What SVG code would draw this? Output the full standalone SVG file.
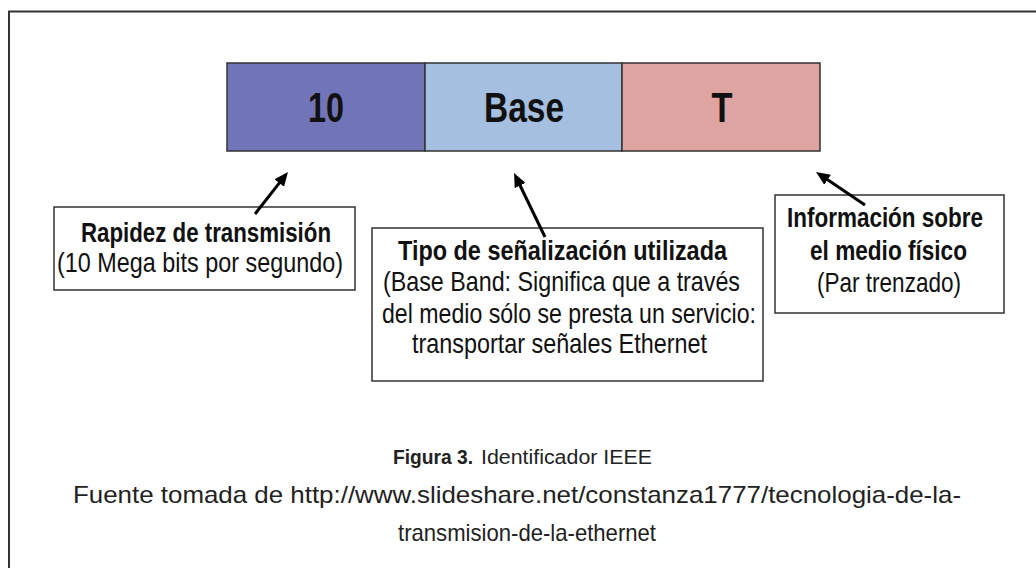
<svg xmlns="http://www.w3.org/2000/svg" width="1036" height="568" viewBox="0 0 1036 568">
<style>
.lbl{font-family:"Liberation Sans Narrow","Liberation Sans",Arial,sans-serif;font-size:28px;fill:#111}
.b{font-weight:bold}
.seg{font-family:"Liberation Sans Narrow","Liberation Sans",Arial,sans-serif;font-size:42px;font-weight:bold;fill:#111;text-anchor:middle}
.cap{font-family:"Liberation Sans",Arial,sans-serif;font-size:24px;fill:#222}
.capf{font-family:"Liberation Sans",Arial,sans-serif;font-size:20.5px;fill:#222}
.box{fill:#fff;stroke:#333;stroke-width:1.5}
.bar{stroke:#333;stroke-width:1.5}
.arr{stroke:#000;stroke-width:3;fill:none;marker-end:url(#ah)}
</style>
<defs>
<marker id="ah" markerUnits="userSpaceOnUse" markerWidth="14" markerHeight="12" refX="4" refY="6" orient="auto">
<path d="M0,0 L14,6 L0,12 z" fill="#000"/>
</marker>
</defs>
<rect x="9" y="11.5" width="1040" height="570" fill="#fff" stroke="#333" stroke-width="2"/>
<g id="seg10">
<rect class="bar" x="227" y="63" width="198" height="88" fill="#7274b8"/>
<text class="seg" x="326" y="122" textLength="36" lengthAdjust="spacingAndGlyphs">10</text>
</g>
<g id="segBase">
<rect class="bar" x="425" y="63" width="197" height="88" fill="#a4bfdf"/>
<text class="seg" x="524" y="122" textLength="80" lengthAdjust="spacingAndGlyphs">Base</text>
</g>
<g id="segT">
<rect class="bar" x="622" y="63" width="198" height="88" fill="#dea4a1"/>
<text class="seg" x="722" y="122" textLength="21" lengthAdjust="spacingAndGlyphs">T</text>
</g>
<g id="box1">
<rect class="box" x="54" y="207" width="301" height="83"/>
<text class="lbl b" x="81" y="242" textLength="250" lengthAdjust="spacingAndGlyphs">Rapidez de transmisión</text>
<text class="lbl" x="57" y="272" textLength="286" lengthAdjust="spacingAndGlyphs">(10 Mega bits por segundo)</text>
</g>
<g id="box2">
<rect class="box" x="372" y="228" width="391" height="153"/>
<text class="lbl b" x="398" y="260" textLength="329" lengthAdjust="spacingAndGlyphs">Tipo de señalización utilizada</text>
<text class="lbl" x="383" y="291" textLength="357" lengthAdjust="spacingAndGlyphs">(Base Band: Significa que a través</text>
<text class="lbl" x="382" y="323" textLength="374" lengthAdjust="spacingAndGlyphs">del medio sólo se presta un servicio:</text>
<text class="lbl" x="412" y="353" textLength="295" lengthAdjust="spacingAndGlyphs">transportar señales Ethernet</text>
</g>
<g id="box3">
<rect class="box" x="775" y="195" width="229" height="118"/>
<text class="lbl b" x="787" y="227" textLength="196" lengthAdjust="spacingAndGlyphs">Información sobre</text>
<text class="lbl b" x="810" y="260" textLength="157" lengthAdjust="spacingAndGlyphs">el medio físico</text>
<text class="lbl" x="817" y="292" textLength="144" lengthAdjust="spacingAndGlyphs">(Par trenzado)</text>
</g>
<g id="connectors">
<line class="arr" x1="255" y1="214" x2="281.8" y2="179.9"/>
<line class="arr" x1="545" y1="237" x2="518.4" y2="182"/>
<line class="arr" x1="865" y1="205" x2="824.3" y2="177.6"/>
</g>
<g id="caption">
<text class="capf b" x="393" y="464" textLength="80" lengthAdjust="spacingAndGlyphs">Figura 3.</text>
<text class="capf" x="481" y="464" textLength="171" lengthAdjust="spacingAndGlyphs">Identificador IEEE</text>
<text class="cap" x="73" y="503" textLength="888" lengthAdjust="spacingAndGlyphs">Fuente tomada de http://www.slideshare.net/constanza1777/tecnologia-de-la-</text>
<text class="cap" x="398" y="541" textLength="258" lengthAdjust="spacingAndGlyphs">transmision-de-la-ethernet</text>
</g>
</svg>
